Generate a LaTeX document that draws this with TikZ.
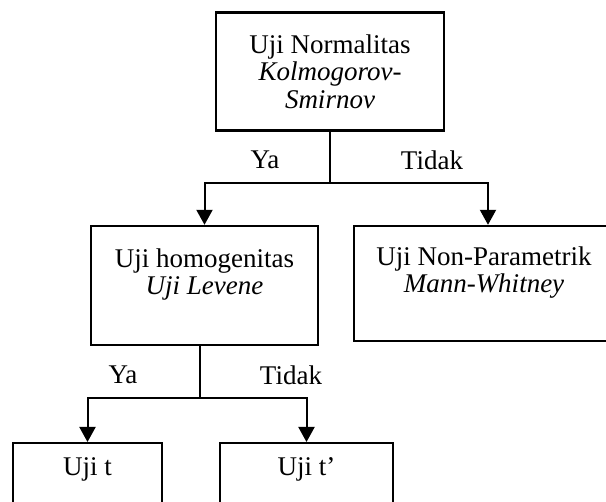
\documentclass[tikz,border=0pt]{standalone}
\usepackage{fontspec}
\setmainfont{Liberation Serif}
\usetikzlibrary{arrows.meta}

\tikzset{
	kotak/.style={draw,line width=2.4pt,align=center,inner sep=0pt,font=\fontsize{27}{27.5}\selectfont},
	teks/.style={font=\fontsize{27}{27.5}\selectfont},
	garis/.style={line width=2pt},
	panah/.style={line width=2pt,-{Triangle[length=15pt,width=16pt]}}
}

\begin{document}
\begin{tikzpicture}[x=1pt,y=-1pt]
		\useasboundingbox (0,0) rectangle (606,502);
		\clip (0,0) rectangle (606,502);
		
		\node[kotak,minimum width=228pt,minimum height=118pt] (normal) at (330,71.5){Uji Normalitas\\\textit{Kolmogorov-}\\\textit{Smirnov}};
		\node[kotak,minimum width=227pt,minimum height=119pt] (homogen) at (204.5,285.5){Uji homogenitas\\\textit{Uji Levene}\\\mbox{}};
		\node[kotak,minimum width=260pt,minimum height=115pt] (nonpar) at (484,283.5){Uji Non-Parametrik\\\textit{Mann-Whitney}\\\mbox{}};
		\node[kotak,anchor=north,minimum width=149pt,minimum height=74pt] (ujit) at (87.5,442){Uji t\\\mbox{}};
		\node[kotak,anchor=north,minimum width=173pt,minimum height=74pt] (ujitt) at (306.5,442){Uji t’\\\mbox{}};
		
		\coordinate (cabang1) at (330,183);
		\draw[garis] (normal) -- (cabang1);
		\draw[panah] (cabang1) -| (homogen.north);
		\draw[panah] (cabang1) -| ([xshift=4pt]nonpar.north);
		\node[teks] (ya1) at (265,160){Ya};
		\node[teks] (tidak1) at (432,160){Tidak};
		
		\coordinate (cabang2) at (200,398);
		\draw[garis] ([xshift=-4.5pt]homogen.south) -- (cabang2);
		\draw[panah] (cabang2) -| (ujit.north);
		\draw[panah] (cabang2) -| (ujitt.north);
		\node[teks] (ya2) at (123,375){Ya};
		\node[teks] (tidak2) at (291,375){Tidak};
	\end{tikzpicture}
\end{document}
